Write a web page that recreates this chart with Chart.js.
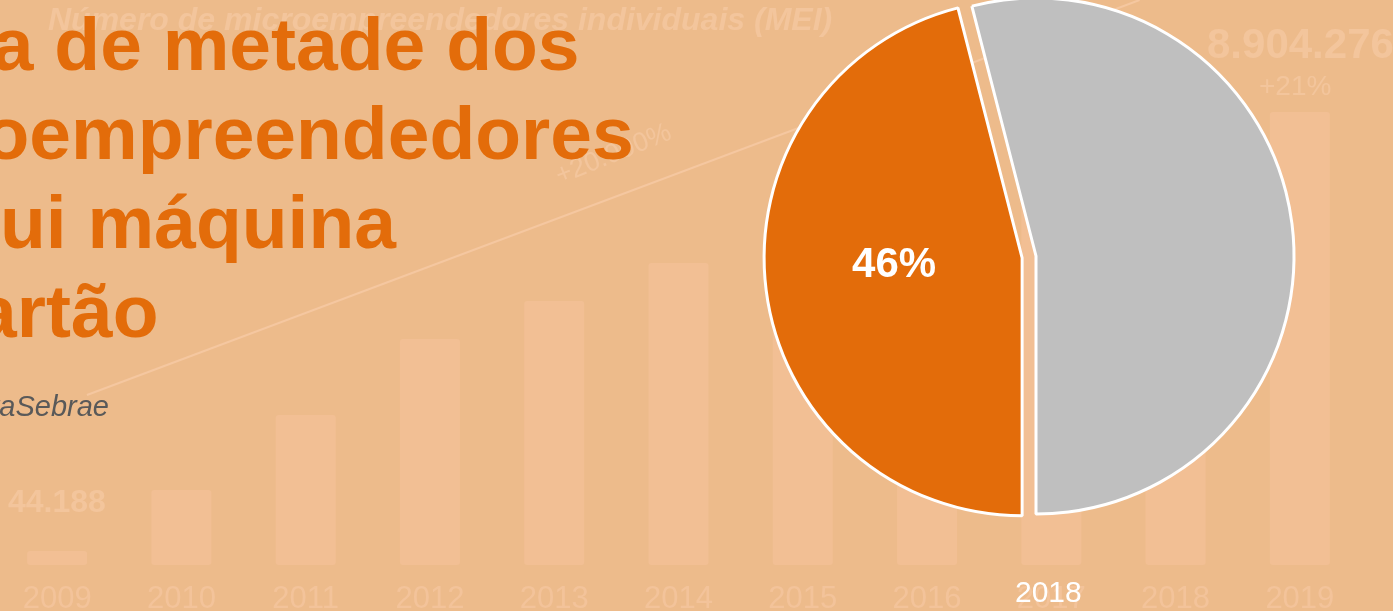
<!DOCTYPE html>
<html lang="pt-BR">
<head>
    <meta charset="UTF-8">
    <title>MEI com máquina de cartão</title>
    <script src="https://cdn.jsdelivr.net/npm/chart.js"></script>
    <style>
        body {
            margin: 0;
            width: 1393px;
            height: 611px;
            overflow: hidden;
            position: relative;
            background-color: #edbb8b;
            font-family: "Liberation Sans", Arial, sans-serif;
        }
        .abs { position: absolute; white-space: nowrap; line-height: 1; }
        .faint { color: #f3c59c; }
        #bgChart, #trendChart { position: absolute; left: -5px; top: 0; }
        #pieChart { position: absolute; left: 736px; top: -44px; }
        .title {
            position: absolute;
            left: -175px;
            top: 0;
            color: #e36c0a;
            font-weight: bold;
            font-size: 75px;
            line-height: 89px;
            white-space: nowrap;
        }
        .source {
            position: absolute;
            right: 1284px;
            top: 392px;
            color: #595959;
            font-style: italic;
            font-size: 29px;
            line-height: 1;
            white-space: nowrap;
        }
    </style>
</head>
<body>
    <!-- faded chart in the background -->
    <canvas id="bgChart" width="1367" height="611"></canvas>
    <canvas id="trendChart" width="1367" height="611"></canvas>
    <div class="abs faint" style="left:48px; top:3px; font-size:32px; font-weight:bold; font-style:italic;">Número de microempreendedores individuais (MEI)</div>
    <div class="abs faint" style="left:8px; top:485px; font-size:32px; font-weight:bold;">44.188</div>
    <div class="abs faint" style="left:1207px; top:23px; font-size:42px; font-weight:bold;">8.904.276</div>
    <div class="abs faint" style="left:1259px; top:72px; font-size:28px;">+21%</div>
    <div class="abs faint" style="left:552px; top:140px; font-size:27px; transform: rotate(-22deg);">+20.000%</div>

    <div class="title">Cerca de metade dos<br>microempreendedores<br>possui máquina<br>de cartão</div>
    <div class="source">Fonte: DataSebrae</div>

    <canvas id="pieChart" width="600" height="600"></canvas>
    <div class="abs" style="left:1015px; top:577px; font-size:30px; color:#ffffff;">2018</div>

    <script>
        // background bar chart (faded)
        const YEARS = ['2009', '2010', '2011', '2012', '2013', '2014', '2015', '2016', '2017', '2018', '2019'];
        const BAR_VALUES = [14, 75, 150, 226, 264, 302, 335, 370, 400, 425, 453];
        const TREND_POINTS = [{ x: 0.24, y: 170 }, { x: 8.71, y: 565 }];

        // pie
        const PIE_LABELS = ['Possui máquina de cartão', 'Não possui'];
        const PIE_VALUES = [46, 54];
        const PIE_COLORS = ['#e36c0a', '#bfbfbf'];
        const EXPLODE = [14, 0];

        new Chart(document.getElementById('bgChart'), {
            type: 'bar',
            data: {
                labels: YEARS,
                datasets: [{
                    data: BAR_VALUES,
                    backgroundColor: '#f2bf94',
                    borderRadius: 3,
                    borderSkipped: false,
                    categoryPercentage: 1,
                    barPercentage: 0.483
                }]
            },
            options: {
                responsive: false,
                animation: false,
                events: [],
                layout: { padding: 0 },
                plugins: { legend: { display: false }, tooltip: { enabled: false } },
                scales: {
                    x: {
                        grid: { display: false, drawTicks: false },
                        border: { display: false },
                        ticks: {
                            color: '#f3c39a',
                            padding: 16,
                            font: { family: 'Liberation Sans', size: 31 }
                        },
                        afterFit: (scale) => { scale.height = 46; }
                    },
                    y: { display: false, min: 0, max: 565 }
                }
            }
        });

        // faint trend line over the bars, same plot area
        new Chart(document.getElementById('trendChart'), {
            type: 'scatter',
            data: {
                datasets: [{
                    data: TREND_POINTS,
                    showLine: true,
                    borderColor: '#f5c7a0',
                    borderWidth: 2,
                    pointRadius: 0
                }]
            },
            options: {
                responsive: false,
                animation: false,
                events: [],
                layout: { padding: { bottom: 46 } },
                plugins: { legend: { display: false }, tooltip: { enabled: false } },
                scales: {
                    x: { type: 'linear', display: false, min: -0.5, max: 10.5 },
                    y: { display: false, min: 0, max: 565 }
                }
            }
        });

        // move the exploded slice outward without changing its radius
        const explodePlugin = {
            id: 'explode',
            beforeDatasetDraw(chart, args) {
                const area = chart.chartArea;
                const cx = (area.left + area.right) / 2;
                const cy = (area.top + area.bottom) / 2;
                args.meta.data.forEach((arc, i) => {
                    const mid = (arc.startAngle + arc.endAngle) / 2;
                    arc.x = cx + Math.cos(mid) * EXPLODE[i];
                    arc.y = cy + Math.sin(mid) * EXPLODE[i];
                });
            }
        };

        const pctLabel = {
            id: 'pctLabel',
            afterDatasetsDraw(chart) {
                const ctx = chart.ctx;
                const arc = chart.getDatasetMeta(0).data[0];
                const pos = arc.tooltipPosition();
                ctx.save();
                ctx.fillStyle = '#ffffff';
                ctx.font = 'bold 42px "Liberation Sans", Arial, sans-serif';
                ctx.textAlign = 'center';
                ctx.textBaseline = 'middle';
                ctx.fillText(PIE_VALUES[0] + '%', pos.x, pos.y - 9);
                ctx.restore();
            }
        };

        new Chart(document.getElementById('pieChart'), {
            type: 'pie',
            data: {
                labels: PIE_LABELS,
                datasets: [{
                    data: PIE_VALUES,
                    backgroundColor: PIE_COLORS,
                    borderColor: '#ffffff',
                    borderWidth: 3
                }]
            },
            options: {
                responsive: false,
                animation: false,
                events: [],
                rotation: 180,
                radius: 258,
                plugins: { legend: { display: false }, tooltip: { enabled: false } }
            },
            plugins: [explodePlugin, pctLabel]
        });
    </script>
</body>
</html>
